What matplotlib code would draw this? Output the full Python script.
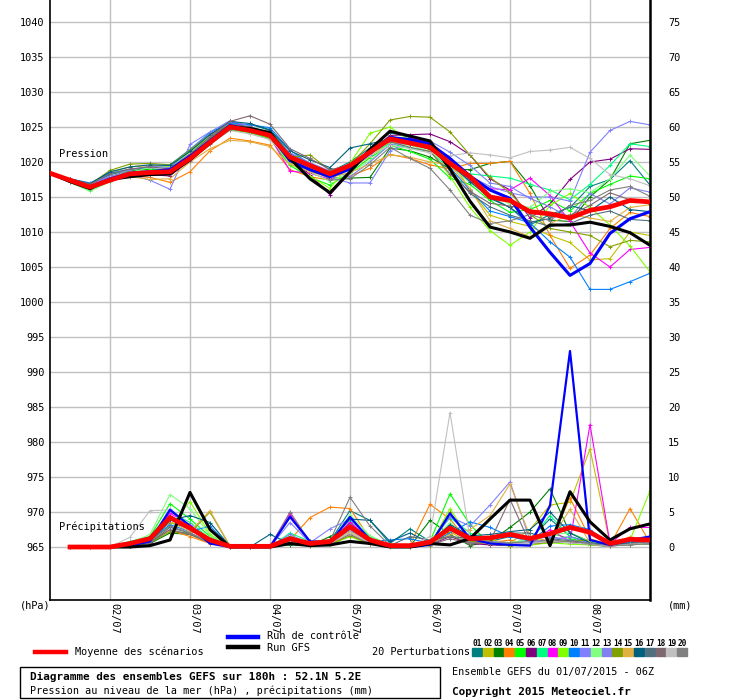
import matplotlib
matplotlib.use("Agg")
import matplotlib.pyplot as plt
from matplotlib.lines import Line2D
from matplotlib.patches import Rectangle
import matplotlib.transforms as mtransforms

W, H = 740, 700

# time axis: 6-hourly steps from 01/07 06Z, 180h
steps = list(range(31))
precip_steps = list(range(1, 31))
day_labels = ["02/07", "03/07", "04/07", "05/07", "06/07", "07/07", "08/07"]
day_steps = [3, 7, 11, 15, 19, 23, 27]

# ensemble mean / control / GFS (sea level pressure, hPa)
mean_p = [1018.4, 1017.4, 1016.4, 1017.4, 1018.3, 1018.5, 1018.6, 1020.5, 1022.8, 1025.0, 1024.5,
          1023.8, 1020.7, 1019.5, 1018.3, 1019.5, 1021.4, 1023.3, 1022.7, 1022.1, 1019.8,
          1017.9, 1015.0, 1014.5, 1012.9, 1012.6, 1012.0, 1013.1, 1013.6, 1014.5, 1014.3]
ctrl_p = [1018.4, 1017.3, 1016.4, 1017.6, 1018.4, 1018.6, 1018.9, 1020.8, 1023.0, 1025.2, 1024.6,
          1023.9, 1020.2, 1018.9, 1017.9, 1019.0, 1021.3, 1023.5, 1023.2, 1022.6, 1020.5,
          1018.0, 1016.0, 1014.8, 1010.7, 1007.1, 1003.8, 1005.5, 1009.8, 1011.9, 1012.9]
gfs_p = [1018.4, 1017.2, 1016.2, 1017.5, 1017.9, 1018.2, 1018.3, 1020.3, 1022.7, 1025.0, 1024.8,
         1024.2, 1020.5, 1017.6, 1015.6, 1018.6, 1021.8, 1024.4, 1023.7, 1023.0, 1019.0,
         1014.4, 1010.7, 1010.0, 1009.1, 1011.0, 1011.0, 1011.4, 1010.8, 1009.9, 1008.1]

# precipitation (mm / 6h)
mean_r = [0, 0, 0, 0.5, 1.2, 4.2, 2.7, 1.0, 0.1, 0.1, 0.1, 1.2, 0.5, 0.8, 2.9,
          1.0, 0.2, 0.2, 0.7, 2.7, 1.2, 1.3, 1.8, 1.2, 1.9, 2.8, 2.1, 0.5, 1.1, 1.0]
ctrl_r = [0, 0, 0, 0.2, 0.8, 5.3, 3.0, 0.5, 0, 0, 0, 4.3, 0.8, 0.6, 4.3,
          1.0, 0.1, 0, 0.3, 4.8, 1.2, 0.5, 0.3, 0.2, 5.9, 28.0, 1.0, 0.3, 1.0, 1.5]
gfs_r = [0, 0, 0, 0, 0.2, 1.0, 7.8, 2.5, 0, 0, 0, 0.5, 0.2, 0.3, 0.8,
         0.5, 0, 0, 0.5, 0.3, 1.2, 4.0, 6.7, 6.7, 0.2, 7.9, 3.6, 1.0, 2.6, 3.3]

pert_colors = ["#008080", "#c0c000", "#008000", "#ff8000", "#00ff00", "#800080", "#00ff80",
               "#ff00ff", "#80ff00", "#0080ff", "#8080ff", "#80ff80", "#8080f0", "#80a000",
               "#e0b040", "#006080", "#507080", "#806870", "#c0c0c0", "#808080"]

pert_p = [
    [1018.4, 1017.6, 1016.8, 1018.2, 1018.8, 1019.0, 1018.9, 1021.0, 1023.5, 1025.3, 1025.4, 1024.5, 1021.2, 1019.8, 1018.6, 1020.0,
     1022.0, 1024.2, 1023.5, 1022.0, 1019.6, 1017.5, 1015.0, 1013.5, 1011.0, 1012.5, 1013.5, 1016.5, 1017.5, 1020.2, 1016.7],
    [1018.4, 1017.5, 1016.9, 1018.5, 1019.3, 1019.5, 1019.4, 1021.2, 1023.2, 1024.8, 1024.3, 1023.5, 1020.8, 1019.4, 1017.6, 1019.0,
     1020.8, 1022.8, 1022.6, 1022.0, 1020.5, 1016.0, 1012.4, 1011.5, 1010.8, 1009.5, 1008.5, 1006.0, 1006.2, 1010.0, 1009.5],
    [1018.4, 1017.4, 1016.5, 1017.8, 1018.7, 1019.0, 1018.7, 1020.6, 1022.9, 1025.1, 1024.8, 1023.8, 1020.3, 1018.8, 1017.7, 1017.7,
     1017.8, 1022.0, 1021.6, 1020.7, 1019.0, 1018.9, 1019.8, 1020.1, 1016.6, 1011.7, 1011.5, 1015.0, 1017.5, 1022.6, 1023.1],
    [1018.4, 1017.3, 1016.3, 1017.5, 1018.0, 1017.8, 1017.1, 1018.6, 1021.6, 1023.4, 1023.0, 1022.4, 1018.9, 1017.9, 1017.4, 1018.0,
     1019.1, 1021.1, 1020.5, 1019.6, 1019.0, 1019.8, 1019.8, 1020.1, 1015.5, 1009.5, 1004.8, 1006.7, 1010.5, 1012.8, 1012.2],
    [1018.4, 1017.2, 1016.0, 1017.4, 1018.6, 1018.9, 1018.9, 1020.6, 1022.7, 1024.6, 1024.2, 1023.3, 1019.5, 1017.8, 1016.7, 1018.5,
     1020.6, 1022.4, 1021.5, 1020.4, 1017.7, 1016.8, 1014.5, 1012.8, 1013.2, 1014.5, 1013.0, 1015.5, 1016.8, 1018.0, 1017.6],
    [1018.4, 1017.5, 1016.6, 1017.9, 1018.4, 1018.2, 1018.0, 1020.4, 1023.0, 1025.3, 1024.8, 1023.9, 1020.5, 1018.2, 1015.3, 1018.5,
     1021.5, 1023.8, 1023.9, 1024.0, 1022.9, 1021.0, 1017.6, 1016.0, 1012.0, 1014.0, 1017.5, 1020.0, 1020.4, 1021.9, 1021.8],
    [1018.4, 1017.4, 1016.6, 1017.7, 1018.3, 1018.7, 1019.1, 1021.4, 1023.6, 1025.5, 1025.0, 1024.2, 1020.9, 1019.2, 1017.9, 1019.3,
     1021.3, 1022.6, 1022.0, 1021.5, 1019.0, 1018.3, 1018.0, 1017.7, 1016.8, 1016.0, 1014.6, 1016.8, 1019.5, 1022.6, 1022.2],
    [1018.4, 1017.4, 1016.5, 1017.3, 1018.2, 1018.6, 1019.0, 1021.2, 1023.5, 1025.8, 1024.8, 1023.6, 1018.7, 1018.4, 1017.5, 1019.3,
     1021.2, 1023.0, 1023.4, 1022.8, 1020.0, 1017.2, 1016.2, 1016.0, 1017.7, 1015.2, 1011.5, 1007.0, 1005.0, 1007.5, 1007.8],
    [1018.4, 1017.3, 1016.1, 1017.9, 1018.9, 1019.3, 1019.3, 1021.5, 1023.6, 1025.1, 1024.6, 1023.6, 1019.8, 1018.0, 1016.2, 1019.8,
     1024.1, 1025.0, 1023.0, 1021.7, 1018.0, 1013.5, 1010.2, 1008.1, 1010.0, 1013.8, 1015.5, 1013.5, 1011.0, 1008.0, 1004.3],
    [1018.4, 1017.6, 1017.0, 1018.4, 1019.0, 1019.2, 1019.6, 1021.8, 1024.2, 1025.6, 1025.3, 1024.9, 1021.7, 1019.7, 1018.6, 1019.2,
     1021.0, 1023.5, 1022.9, 1022.4, 1019.2, 1016.0, 1013.0, 1012.2, 1011.3, 1008.6, 1006.4, 1001.8, 1001.8, 1002.9, 1004.1],
    [1018.4, 1017.5, 1016.9, 1018.0, 1018.2, 1017.4, 1016.1, 1022.5, 1024.3, 1025.9, 1025.1, 1024.0, 1020.1, 1019.0, 1017.8, 1017.0,
     1017.0, 1021.6, 1022.8, 1022.5, 1020.2, 1018.0, 1016.5, 1015.6, 1015.0, 1015.0, 1014.4, 1021.4, 1024.5, 1025.8, 1025.3],
    [1018.4, 1017.1, 1015.8, 1017.2, 1018.5, 1019.2, 1019.5, 1021.3, 1023.4, 1025.0, 1024.5, 1023.5, 1020.3, 1018.6, 1017.2, 1018.4,
     1020.2, 1022.6, 1022.4, 1021.5, 1019.5, 1017.0, 1015.3, 1014.0, 1013.5, 1015.8, 1016.2, 1015.6, 1017.6, 1021.0, 1018.0],
    [1018.4, 1017.5, 1016.7, 1017.9, 1018.9, 1019.4, 1019.2, 1021.8, 1024.0, 1025.2, 1024.5, 1023.8, 1021.3, 1019.9, 1018.7, 1017.9,
     1020.0, 1022.5, 1022.7, 1023.0, 1021.4, 1019.5, 1017.0, 1016.5, 1014.8, 1013.6, 1012.0, 1015.5, 1014.0, 1016.3, 1015.7],
    [1018.4, 1017.5, 1016.8, 1018.8, 1019.7, 1019.8, 1019.6, 1021.7, 1023.9, 1025.3, 1024.9, 1023.3, 1020.7, 1021.0, 1018.8, 1019.6,
     1022.6, 1026.0, 1026.5, 1026.4, 1024.3, 1021.0, 1017.8, 1015.6, 1012.5, 1010.5, 1010.0, 1009.5, 1007.9, 1008.8, 1008.6],
    [1018.4, 1017.3, 1016.4, 1017.7, 1017.9, 1017.5, 1017.6, 1020.0, 1021.9, 1023.1, 1022.9, 1022.2, 1019.7, 1018.6, 1017.8, 1018.5,
     1019.7, 1021.0, 1020.7, 1020.0, 1019.6, 1016.2, 1011.6, 1010.5, 1009.3, 1011.2, 1012.5, 1012.0, 1011.5, 1013.5, 1013.9],
    [1018.4, 1017.6, 1016.9, 1018.6, 1019.3, 1019.6, 1019.5, 1021.5, 1023.9, 1025.8, 1025.5, 1024.6, 1021.6, 1020.3, 1019.2, 1022.0,
     1022.6, 1023.3, 1022.6, 1021.8, 1019.7, 1017.2, 1014.8, 1013.5, 1011.4, 1011.9, 1013.8, 1013.0, 1015.0, 1013.2, 1012.9],
    [1018.4, 1017.4, 1016.6, 1017.6, 1018.1, 1018.4, 1018.4, 1020.8, 1023.4, 1025.4, 1025.0, 1024.1, 1020.8, 1019.3, 1018.1, 1019.6,
     1021.5, 1023.7, 1023.0, 1022.4, 1018.9, 1015.5, 1013.6, 1012.4, 1011.6, 1010.8, 1011.2, 1012.4, 1013.0, 1011.8, 1011.6],
    [1018.4, 1017.6, 1016.8, 1018.3, 1019.0, 1019.3, 1019.0, 1021.1, 1023.6, 1025.8, 1026.6, 1025.4, 1021.9, 1020.5, 1018.9, 1019.5,
     1021.6, 1022.9, 1022.1, 1021.5, 1018.3, 1015.8, 1014.1, 1013.7, 1013.2, 1012.2, 1012.4, 1013.8, 1015.6, 1014.6, 1014.0],
    [1018.4, 1017.4, 1016.4, 1017.8, 1018.6, 1018.8, 1018.7, 1020.5, 1022.7, 1024.5, 1024.0, 1023.2, 1020.2, 1019.0, 1017.9, 1019.2,
     1020.9, 1022.4, 1021.9, 1021.3, 1020.9, 1021.3, 1021.0, 1020.6, 1021.5, 1021.7, 1022.1, 1020.5, 1018.2, 1017.6, 1016.6],
    [1018.4, 1017.2, 1016.2, 1017.3, 1018.0, 1018.2, 1018.3, 1020.2, 1022.5, 1024.6, 1025.1, 1023.8, 1021.0, 1019.7, 1017.4, 1017.6,
     1019.6, 1022.1, 1020.5, 1019.1, 1016.0, 1012.4, 1011.2, 1011.6, 1012.5, 1011.6, 1013.8, 1014.5, 1016.0, 1016.5, 1015.1],
]

pert_r = [
    [0, 0, 0, 0.3, 1.0, 3.5, 2.6, 1.0, 0.1, 0, 0.1, 1.5, 0.4, 0.8, 5.2, 3.8, 0.5, 2.6, 0.8, 3.0, 0.6, 0.8, 1.5, 1.2, 4.0, 1.5, 0.7, 0.4, 0.8, 1.0],
    [0, 0, 0, 0.6, 1.3, 4.0, 2.5, 0.8, 0, 0, 0, 0.8, 0.3, 0.4, 2.0, 0.6, 0.1, 0.3, 0.2, 2.2, 0.5, 1.0, 0.6, 2.5, 6.0, 6.4, 14.0, 0.5, 0.3, 0.8],
    [0, 0, 0, 0.2, 0.5, 2.0, 1.8, 0.6, 0, 0, 0, 0.3, 0.2, 1.5, 2.8, 0.6, 0.2, 0.1, 3.8, 1.8, 0.2, 0.8, 2.8, 5.0, 8.3, 2.0, 0.8, 0.2, 0.5, 0.4],
    [0, 0, 0, 0.3, 0.8, 2.4, 1.5, 0.5, 0, 0, 0, 1.0, 4.2, 5.7, 5.5, 1.2, 0.4, 0.3, 6.1, 4.0, 0.5, 0.6, 1.0, 0.3, 0.8, 7.0, 1.2, 0.3, 5.5, 0.6],
    [0, 0, 0, 0.5, 1.5, 6.2, 4.0, 1.5, 0.1, 0, 0, 1.5, 0.5, 0.6, 3.0, 1.0, 0.2, 0.1, 0.8, 7.6, 3.2, 0.4, 0.2, 0.5, 2.0, 1.2, 0.6, 0.2, 0.4, 0.6],
    [0, 0, 0, 0.3, 1.0, 4.5, 2.8, 0.9, 0, 0, 0, 4.5, 0.8, 0.5, 3.5, 0.8, 0.1, 0, 0.3, 1.5, 0.5, 0.3, 0.2, 0.4, 0.6, 0.8, 0.3, 0.1, 0.6, 1.2],
    [0, 0, 0, 0.8, 1.5, 5.0, 3.5, 1.2, 0.1, 0, 0, 2.0, 0.8, 1.0, 3.8, 1.5, 0.3, 0.2, 0.6, 4.2, 2.0, 0.6, 0.4, 1.0, 4.5, 1.5, 0.4, 0.3, 0.7, 0.5],
    [0, 0, 0, 0.4, 1.2, 4.8, 3.2, 1.0, 0, 0, 0.1, 4.8, 0.6, 0.5, 3.6, 1.0, 0.2, 0.3, 0.4, 2.5, 0.8, 0.8, 0.6, 0.4, 2.5, 0.8, 17.5, 0.5, 2.8, 2.8],
    [0, 0, 0, 0.2, 0.8, 3.0, 6.5, 1.8, 0, 0, 0, 0.6, 0.2, 0.3, 1.5, 0.4, 0, 0, 0.3, 5.5, 1.0, 0.5, 0.2, 0.3, 0.6, 0.4, 0.3, 0.1, 1.0, 8.0],
    [0, 0, 0, 0.3, 0.9, 3.2, 2.2, 3.0, 0.1, 0, 0, 1.0, 0.4, 0.6, 2.5, 0.8, 1.0, 1.2, 0.5, 2.0, 3.6, 2.8, 1.5, 0.8, 3.0, 3.2, 2.5, 0.4, 0.6, 1.4],
    [0, 0, 0, 0.4, 1.0, 5.5, 3.0, 1.0, 0, 0, 0, 3.5, 0.6, 2.6, 4.0, 1.2, 0.2, 0.2, 0.6, 4.3, 3.0, 6.0, 9.3, 1.0, 1.5, 1.0, 0.6, 0.3, 0.8, 0.9],
    [0, 0, 0, 0.6, 1.8, 7.5, 5.5, 1.6, 0.1, 0, 0, 1.0, 0.5, 0.6, 4.6, 1.6, 0.3, 0.2, 0.5, 3.5, 1.0, 0.8, 0.6, 1.2, 1.8, 2.0, 0.8, 0.2, 0.4, 0.6],
    [0, 0, 0, 0.3, 0.9, 4.0, 2.4, 0.8, 0, 0, 0, 1.8, 0.4, 0.5, 2.4, 0.7, 0.1, 0.1, 0.3, 2.6, 0.6, 0.8, 0.5, 0.6, 1.0, 1.5, 0.5, 0.1, 0.5, 0.7],
    [0, 0, 0, 0.2, 0.6, 2.2, 2.0, 5.0, 0.1, 0, 0, 0.6, 0.3, 0.4, 1.6, 0.5, 0.1, 0.1, 0.4, 5.0, 0.8, 0.6, 0.2, 0.4, 0.7, 0.8, 1.0, 0.2, 0.3, 0.5],
    [0, 0, 0, 0.5, 1.1, 3.6, 2.2, 5.2, 0.1, 0, 0, 0.8, 0.3, 0.4, 2.2, 0.5, 0.1, 0.1, 0.4, 1.8, 2.5, 4.5, 9.0, 1.5, 0.8, 5.4, 0.6, 0.2, 1.5, 0.8],
    [0, 0, 0, 0.2, 0.7, 3.8, 4.5, 3.5, 0.1, 0, 1.8, 0.5, 0.3, 0.8, 4.0, 3.8, 0.8, 2.0, 0.6, 3.2, 1.6, 1.8, 2.2, 2.5, 5.0, 2.0, 0.6, 0.3, 0.6, 1.0],
    [0, 0, 0, 0.2, 0.6, 2.8, 2.0, 0.7, 0, 0, 0.1, 0.6, 0.3, 0.6, 3.2, 1.2, 0.2, 1.5, 1.0, 1.5, 1.2, 1.5, 2.0, 2.0, 1.2, 0.9, 0.5, 0.2, 0.5, 1.0],
    [0, 0, 0, 0.2, 0.6, 2.5, 1.8, 0.6, 0, 0, 0, 0.8, 0.3, 0.5, 1.8, 0.5, 0.1, 0.1, 0.3, 1.2, 0.5, 0.8, 6.8, 0.5, 0.8, 0.6, 0.4, 0.1, 0.4, 0.8],
    [0, 0, 0, 1.4, 5.2, 5.3, 2.5, 0.8, 0, 0, 0, 1.0, 0.4, 0.5, 2.0, 0.6, 0.1, 0.1, 1.5, 19.2, 1.2, 0.6, 0.4, 0.5, 0.8, 0.6, 0.4, 0.1, 0.4, 0.5],
    [0, 0, 0, 0.3, 0.8, 3.0, 2.0, 0.6, 0, 0, 0.1, 5.0, 0.8, 0.9, 7.1, 3.0, 0.2, 0.1, 0.4, 1.6, 0.6, 0.6, 0.6, 0.8, 1.0, 0.8, 0.5, 0.2, 0.3, 0.5],
]

PRECIP_BASE = 965  # 0 mm sits on 965 hPa
FONT = "DejaVu Sans Mono"


def px(x, y):
    # pixel position -> figure fraction
    return x / W, 1 - y / H


def shift(vals):
    return [PRECIP_BASE + v for v in vals]


def main() -> None:
    plt.rcParams["font.family"] = FONT
    fig = plt.figure(figsize=(W / 100, H / 100), dpi=100)
    ax = fig.add_axes([50 / W, 100 / H, 600 / W, 600 / H])
    ax.set_xlim(0, 30)
    ax.set_ylim(957.43, 1043.14)

    for lev in range(965, 1041, 5):
        ax.axhline(lev, color="#c0c0c0", lw=1.0, zorder=0)
    for s in day_steps:
        ax.axvline(s, color="#c0c0c0", lw=1.0, zorder=0)

    for col, pp, rr in zip(pert_colors, pert_p, pert_r):
        ax.plot(steps, pp, color=col, lw=0.8, marker="+", ms=3, mew=0.7, zorder=2)
        ax.plot(precip_steps, shift(rr), color=col, lw=0.8, marker="+", ms=3, mew=0.7, zorder=2)

    ax.plot(steps, ctrl_p, color="#0000ff", lw=2.2, zorder=3)
    ax.plot(precip_steps, shift(ctrl_r), color="#0000ff", lw=1.6, zorder=3)
    ax.plot(steps, gfs_p, color="black", lw=2.2, zorder=4)
    ax.plot(precip_steps, shift(gfs_r), color="black", lw=2.2, zorder=4)
    ax.plot(steps, mean_p, color="#ff0000", lw=3.4, zorder=5)
    ax.plot(precip_steps, shift(mean_r), color="#ff0000", lw=3.4, zorder=5)

    ax.text(0.45, 1021.1, "Pression", fontsize=7.4, va="center", ha="left", zorder=6)
    ax.text(0.45, 967.9, "Précipitations", fontsize=7.4, va="center", ha="left", zorder=6)

    ax.set_yticks(range(965, 1041, 5))
    ax.set_xticks([])
    ax.tick_params(axis="y", length=0, pad=4, labelsize=7.4)
    ax.spines["top"].set_visible(False)
    ax.spines["left"].set_linewidth(1.2)
    ax.spines["bottom"].set_linewidth(1.2)
    ax.spines["right"].set_linewidth(1.8)

    ax2 = ax.twinx()
    lo, hi = ax.get_ylim()
    ax2.set_ylim(lo - PRECIP_BASE, hi - PRECIP_BASE)
    ax2.set_yticks(range(0, 76, 5))
    ax2.tick_params(axis="y", length=0, pad=13, labelsize=7.4)
    for sp in ax2.spines.values():
        sp.set_visible(False)

    # date labels, read top-down just right of each grid line
    trans = mtransforms.blended_transform_factory(ax.transData, fig.transFigure)
    off = mtransforms.offset_copy(trans, fig=fig, x=4, y=0, units="dots")
    for s, lab in zip(day_steps, day_labels):
        ax.text(s, 1 - 603 / H, lab, transform=off, rotation=270, fontsize=7.4,
                ha="center", va="top")

    fig.text(*px(20, 606), "(hPa)", fontsize=7.4, va="center", ha="left")
    fig.text(*px(668, 606), "(mm)", fontsize=7.4, va="center", ha="left")

    # legend
    fig.add_artist(Line2D([35 / W, 66 / W], [1 - 652 / H] * 2, color="#ff0000", lw=3.2))
    fig.text(*px(75, 652), "Moyenne des scénarios", fontsize=7.4, va="center")
    fig.add_artist(Line2D([228 / W, 258 / W], [1 - 637 / H] * 2, color="#0000ff", lw=3.2))
    fig.text(*px(267, 636), "Run de contrôle", fontsize=7.4, va="center")
    fig.add_artist(Line2D([228 / W, 258 / W], [1 - 647 / H] * 2, color="black", lw=3.2))
    fig.text(*px(267, 648), "Run GFS", fontsize=7.4, va="center")
    fig.text(*px(372, 652), "20 Perturbations", fontsize=7.4, va="center")
    for i, col in enumerate(pert_colors):
        x0 = 472 + 10.8 * i
        fig.add_artist(Rectangle(px(x0, 656), 10 / W, 8 / H, color=col,
                                 transform=fig.transFigure))
        fig.text(*px(x0 + 5, 644), f"{i + 1:02d}", fontsize=5.6, ha="center",
                 va="center", fontweight="bold")

    # title box
    fig.add_artist(Rectangle(px(20, 698), 420 / W, 31 / H, fill=False, ec="black", lw=1,
                             transform=fig.transFigure))
    fig.text(*px(30, 677), "Diagramme des ensembles GEFS sur 180h : 52.1N 5.2E",
             fontsize=7.9, fontweight="bold", va="center")
    fig.text(*px(30, 691), "Pression au niveau de la mer (hPa) , précipitations (mm)",
             fontsize=7.3, va="center")
    fig.text(*px(452, 672), "Ensemble GEFS du 01/07/2015 - 06Z", fontsize=7.3, va="center")
    fig.text(*px(452, 692), "Copyright 2015 Meteociel.fr", fontsize=7.9,
             fontweight="bold", va="center")

    fig.savefig("out.png", dpi=100, facecolor="white")


if __name__ == "__main__":
    main()
